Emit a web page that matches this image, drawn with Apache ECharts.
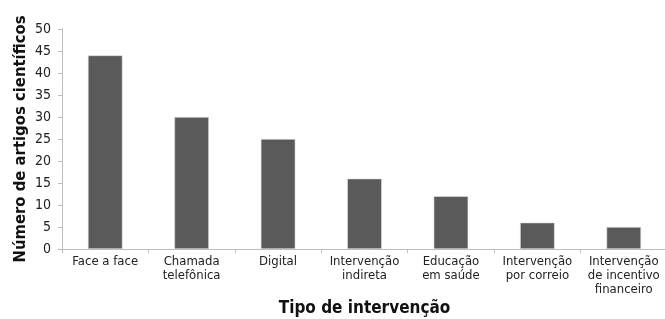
<!DOCTYPE html>
<html>
<head>
<meta charset="utf-8">
<script src="https://cdn.jsdelivr.net/npm/echarts@6/dist/echarts.min.js"></script>
<style>
  html, body { margin: 0; padding: 0; background: #fff; }
  #chart { width: 665px; height: 319px; }
</style>
</head>
<body>
<div id="chart"></div>
<script>
// categorias e valores
var categories = [
  'Face a face',
  'Chamada\ntelefônica',
  'Digital',
  'Intervenção\nindireta',
  'Educação\nem saúde',
  'Intervenção\npor correio',
  'Intervenção\nde incentivo\nfinanceiro'
];
var values = [44, 30, 25, 16, 12, 6, 5];

var font = '"DejaVu Sans Condensed", "Liberation Sans", Arial, sans-serif';

var chart = echarts.init(document.getElementById('chart'));
var option = {
  animation: false,
  grid: { left: 62, right: -2, top: 29, bottom: 70, outerBoundsMode: 'none' },
  xAxis: {
    type: 'category',
    data: categories,
    name: 'Tipo de intervenção',
    nameLocation: 'middle',
    nameGap: 51,
    nameMoveOverlap: false,
    nameTextStyle: { fontFamily: font, fontSize: 17, fontWeight: 'bold', color: '#111' },
    axisLine: { lineStyle: { color: '#bdbdbd' } },
    axisTick: { show: true, length: 4, lineStyle: { color: '#bdbdbd' } },
    axisLabel: { fontFamily: font, fontSize: 13, color: '#222', margin: 6, lineHeight: 14, interval: 0 }
  },
  yAxis: {
    type: 'value',
    min: 0,
    max: 50,
    interval: 5,
    name: 'Número de artigos científicos',
    nameLocation: 'middle',
    nameGap: 33,
    nameMoveOverlap: false,
    nameTextStyle: { fontFamily: font, fontSize: 16.5, fontWeight: 'bold', color: '#111' },
    axisLine: { show: true, lineStyle: { color: '#bdbdbd' } },
    axisTick: { show: true, length: 4, lineStyle: { color: '#bdbdbd' } },
    axisLabel: { fontFamily: font, fontSize: 14, color: '#222', margin: 11 },
    splitLine: { show: false }
  },
  series: [
    {
      type: 'bar',
      data: values,
      barWidth: '40%',
      itemStyle: { color: '#5a5a5a', borderColor: '#e0e0e0', borderWidth: 0.6 }
    }
  ]
};
chart.setOption(option);
</script>
</body>
</html>
